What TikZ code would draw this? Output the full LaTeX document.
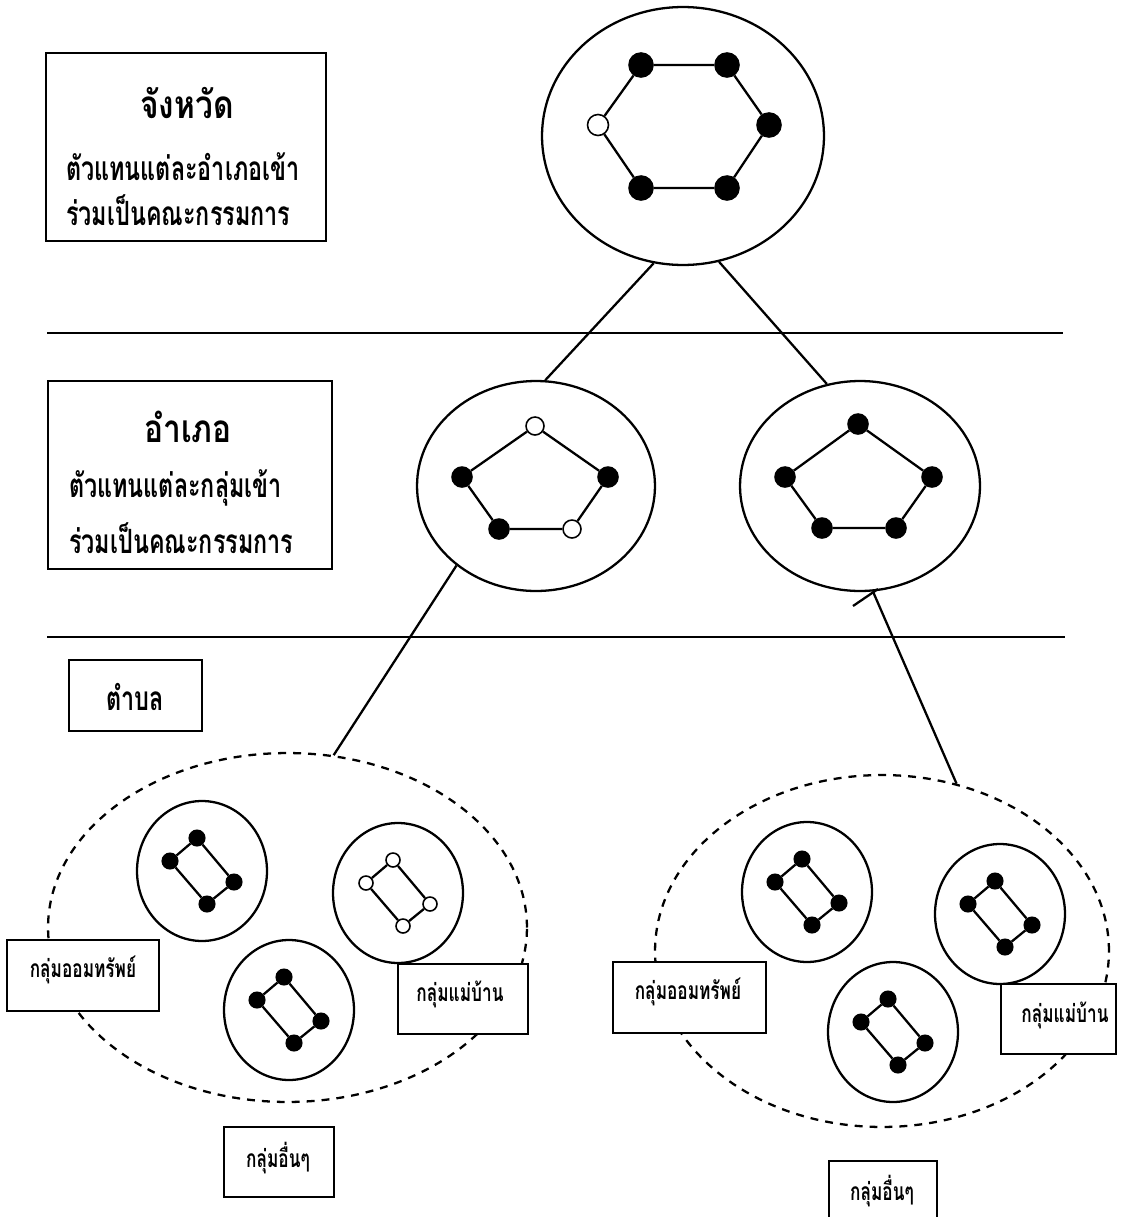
\documentclass[tikz,border=0pt]{standalone}
\usepackage{fontspec}
\newfontfamily\thai[Script=Thai,FakeStretch=0.7]{Loma}
\newfontfamily\thaiw[Script=Thai,FakeStretch=0.82]{Loma}
\newfontfamily\thais[Script=Thai,FakeStretch=0.7]{Loma}
\usetikzlibrary{shapes.geometric}
\tikzset{
  circ/.style={ellipse,draw,inner sep=0pt,line width=1.3pt},
  dashell/.style={ellipse,draw,inner sep=0pt,line width=1.3pt,dash pattern=on 4.5pt off 4pt},
  grpc/.style={ellipse,draw,inner sep=0pt,line width=1.3pt,minimum width=2.6cm,minimum height=2.8cm},
  dotL/.style={circle,draw,fill=black,inner sep=0pt,line width=0.9pt,minimum size=0.48cm},
  openL/.style={dotL,fill=white,minimum size=0.42cm},
  dotM/.style={circle,draw,fill=black,inner sep=0pt,line width=0.9pt,minimum size=0.40cm},
  openM/.style={dotM,fill=white,minimum size=0.36cm},
  dotS/.style={circle,draw,fill=black,inner sep=0pt,line width=0.9pt,minimum size=0.31cm},
  openS/.style={dotS,fill=white,minimum size=0.28cm},
  box/.style={rectangle,draw,fill=white,inner sep=0pt,line width=1.3pt},
  ttl/.style={inner sep=0pt,font=\thaiw\bfseries\fontsize{22}{26}\selectfont},
  body/.style={inner sep=0pt,font=\thai\bfseries\fontsize{19}{23}\selectfont},
  sm/.style={inner sep=0pt,font=\thais\bfseries\fontsize{14}{17}\selectfont},
  edge/.style={line width=1.3pt},
}
\newcommand\grp[4]{%
  \node[grpc] (#1) at (#2,#3) {};
  \node[#4] (#1t) at (#2-5,#3-33) {};
  \node[#4] (#1l) at (#2-32,#3-10) {};
  \node[#4] (#1r) at (#2+32,#3+11) {};
  \node[#4] (#1b) at (#2+5,#3+33) {};
  \draw[edge] (#1t) -- (#1r) -- (#1b) -- (#1l) -- (#1t);
}
\begin{document}
\begin{tikzpicture}[x=0.02cm,y=-0.02cm,line width=1.3pt]
\useasboundingbox (0,0) rectangle (1139,1217);

% divider lines
\coordinate (h1a) at (47,333); \coordinate (h1b) at (1063,333);
\coordinate (h2a) at (47,637); \coordinate (h2b) at (1065,637);
\draw[edge] (h1a) -- (h1b);
\draw[edge] (h2a) -- (h2b);

% province circle with hexagon
\node[circ,minimum width=5.64cm,minimum height=5.16cm] (top) at (683,136) {};
\node[dotL] (h1) at (641,65) {};
\node[dotL] (h2) at (727,65) {};
\node[dotL] (h3) at (769,125) {};
\node[dotL] (h4) at (727,188) {};
\node[dotL] (h5) at (641,188) {};
\node[openL] (h6) at (598,125) {};
\draw[edge] (h1) -- (h2) -- (h3) -- (h4) -- (h5) -- (h6) -- (h1);

% district circles with pentagons
\node[circ,minimum width=4.76cm,minimum height=4.20cm] (midL) at (536,486) {};
\node[openM] (pLt) at (535,426) {};
\node[dotM] (pLl) at (462,477) {};
\node[dotM] (pLr) at (608,477) {};
\node[dotM] (pLbl) at (499,529) {};
\node[openM] (pLbr) at (572,529) {};
\draw[edge] (pLt) -- (pLr) -- (pLbr) -- (pLbl) -- (pLl) -- (pLt);

\node[circ,minimum width=4.80cm,minimum height=4.20cm] (midR) at (860,486) {};
\node[dotM] (pRt) at (858,424) {};
\node[dotM] (pRl) at (785,477) {};
\node[dotM] (pRr) at (932,477) {};
\node[dotM] (pRbl) at (822,528) {};
\node[dotM] (pRbr) at (896,528) {};
\draw[edge] (pRt) -- (pRr) -- (pRbr) -- (pRbl) -- (pRl) -- (pRt);

% subdistrict dashed ellipses
\node[dashell,minimum width=9.58cm,minimum height=6.98cm] (botL) at (287.5,927.5) {};
\node[dashell,minimum width=9.08cm,minimum height=7.04cm] (botR) at (882,951) {};

% connectors
\draw[edge] (top.-103.4) -- (midL.85.1);
\draw[edge] (top.-74.9) -- (midR.108.1);
\draw[edge] (midL.-135) -- (botL.75.2);
\draw[edge] (midR.-83) -- (botR.66.9);
\coordinate (tk) at (878,589);
\draw[edge] (tk) -- ++(-25,17);

% groups
\grp{gA}{202}{871}{dotS}
\grp{gB}{398}{893}{openS}
\grp{gC}{289}{1010}{dotS}
\grp{gD}{807}{892}{dotS}
\grp{gE}{1000}{914}{dotS}
\grp{gF}{893}{1032}{dotS}

% left label boxes
\node[box,minimum width=5.6cm,minimum height=3.76cm] (b1) at (186,147) {};
\node[ttl] (b1t) at (187,103) {จังหวัด};
\node[body,anchor=west] (b1a) at (65,167) {ตัวแทนแต่ละอำเภอเข้า};
\node[body,anchor=west] (b1b) at (65,210) {ร่วมเป็นคณะกรรมการ};

\node[box,minimum width=5.68cm,minimum height=3.76cm] (b2) at (190,475) {};
\node[ttl] (b2t) at (188,427) {อำเภอ};
\node[body,anchor=west] (b2a) at (68,488) {ตัวแทนแต่ละกลุ่มเข้า};
\node[body,anchor=west] (b2b) at (68,538) {ร่วมเป็นคณะกรรมการ};

\node[box,minimum width=2.66cm,minimum height=1.42cm] (b3) at (135.5,695.5) {};
\node[body] (b3t) at (135,697) {ตำบล};

% group label boxes (left)
\node[box,minimum width=3.04cm,minimum height=1.42cm] (lA) at (83,975.5) {};
\node[sm] (lAt) at (83,970) {กลุ่มออมทรัพย์};
\node[box,minimum width=2.6cm,minimum height=1.4cm] (lB) at (463,999) {};
\node[sm] (lBt) at (460,994) {กลุ่มแม่บ้าน};
\node[box,minimum width=2.2cm,minimum height=1.4cm] (lC) at (279,1162) {};
\node[sm] (lCt) at (278,1158) {กลุ่มอื่นๆ};

% group label boxes (right)
\node[box,minimum width=3.06cm,minimum height=1.42cm] (rA) at (689.5,997.5) {};
\node[sm] (rAt) at (688,992) {กลุ่มออมทรัพย์};
\node[box,minimum width=2.3cm,minimum height=1.4cm] (rB) at (1058.5,1019) {};
\node[sm] (rBt) at (1065,1015) {กลุ่มแม่บ้าน};
\node[box,minimum width=2.16cm,minimum height=1.4cm] (rC) at (883,1196) {};
\node[sm] (rCt) at (882,1191) {กลุ่มอื่นๆ};
\end{tikzpicture}
\end{document}
